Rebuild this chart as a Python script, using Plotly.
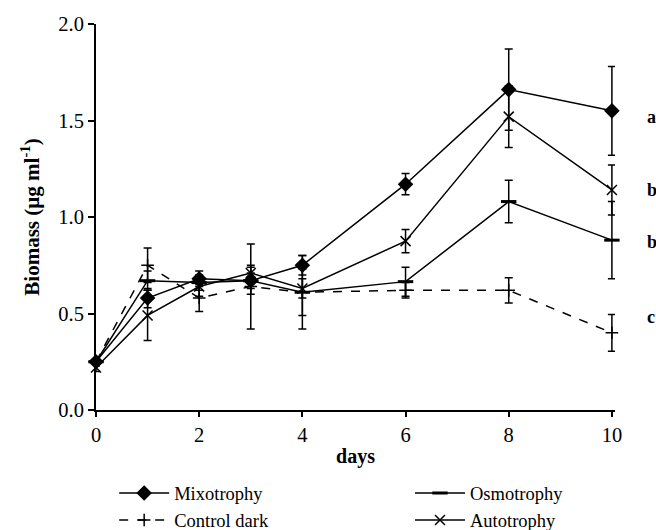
import plotly.graph_objects as go

days = [0, 1, 2, 3, 4, 6, 8, 10]

mixo = [0.25, 0.58, 0.68, 0.67, 0.75, 1.17, 1.66, 1.55]
mixo_err = [0.02, 0.05, 0.04, 0.04, 0.05, 0.055, 0.21, 0.23]

osmo = [0.25, 0.67, 0.66, 0.67, 0.61, 0.665, 1.08, 0.88]
osmo_err = [0.02, 0.05, 0.04, 0.07, 0.12, 0.075, 0.11, 0.20]

control = [0.25, 0.75, 0.58, 0.64, 0.61, 0.62, 0.62, 0.40]
control_err = [0.02, 0.09, 0.07, 0.22, 0.19, 0.04, 0.065, 0.095]

auto = [0.22, 0.49, 0.64, 0.71, 0.63, 0.875, 1.52, 1.14]
auto_err = [0.02, 0.13, 0.05, 0.04, 0.05, 0.06, 0.16, 0.13]

letters = ["a", "b", "b", "c"]
letter_y = [1.52, 1.14, 0.87, 0.48]

FONT = "Liberation Serif"

series = [
    ("Mixotrophy", mixo, mixo_err, "solid", "legend",
     dict(symbol="diamond", size=12, color="black")),
    ("Osmotrophy", osmo, osmo_err, "solid", "legend2",
     dict(symbol="line-ew-open", size=11, color="black", line=dict(color="black", width=3))),
    ("Control dark", control, control_err, "dash", "legend",
     dict(symbol="cross-thin-open", size=9, color="black", line=dict(color="black", width=1.5))),
    ("Autotrophy", auto, auto_err, "solid", "legend2",
     dict(symbol="x-thin-open", size=10, color="black", line=dict(color="black", width=1.5))),
]

fig = go.Figure()
for name, vals, err, dash, leg, marker in series:
    fig.add_trace(go.Scatter(
        x=days, y=vals, name=name, mode="lines+markers", legend=leg,
        line=dict(color="black", width=1.5, dash=dash),
        marker=marker,
        error_y=dict(type="data", array=err, visible=True, color="black",
                     thickness=1.5, width=4),
        cliponaxis=False,
    ))

for t, yv in zip(letters, letter_y):
    fig.add_annotation(text="<b>" + t + "</b>", x=1.058, xref="paper", xanchor="left",
                       y=yv, yref="y", showarrow=False,
                       font=dict(family=FONT, size=18, color="black"))

legend_common = dict(orientation="v", yanchor="top", xanchor="left",
                     font=dict(family=FONT, size=18.5, color="black"),
                     itemwidth=50, tracegroupgap=0, bgcolor="rgba(0,0,0,0)")

fig.update_layout(
    width=656, height=530,
    margin=dict(l=96, r=41, t=24, b=120, autoexpand=False),
    paper_bgcolor="white", plot_bgcolor="white",
    font=dict(family=FONT, size=20, color="black"),
    showlegend=True,
    legend=dict(x=0.035, y=-0.167, **legend_common),
    legend2=dict(x=0.605, y=-0.167, **legend_common),
    xaxis=dict(range=[0, 10.06], tickvals=[0, 2, 4, 6, 8, 10], showgrid=False,
               zeroline=False, showline=True, linecolor="black", linewidth=2,
               ticks="outside", ticklen=5, tickwidth=2, tickcolor="black",
               tickfont=dict(family=FONT, size=20.5),
               title=dict(text="<b>days</b>", font=dict(family=FONT, size=20), standoff=4)),
    yaxis=dict(range=[0, 2.0], tickvals=[0, 0.5, 1.0, 1.5, 2.0], tickformat=".1f",
               showgrid=False, zeroline=False, showline=True, linecolor="black",
               linewidth=2, ticks="outside", ticklen=6, tickwidth=2, tickcolor="black",
               tickfont=dict(family=FONT, size=20.5),
               title=dict(text="<b>Biomass (µg ml<sup>-1</sup>)</b>",
                          font=dict(family=FONT, size=21), standoff=13)),
)

fig.write_html(
    "out.html",
    config={"displayModeBar": False},
    post_script="document.body.style.margin='0';document.body.style.overflow='hidden';",
)
